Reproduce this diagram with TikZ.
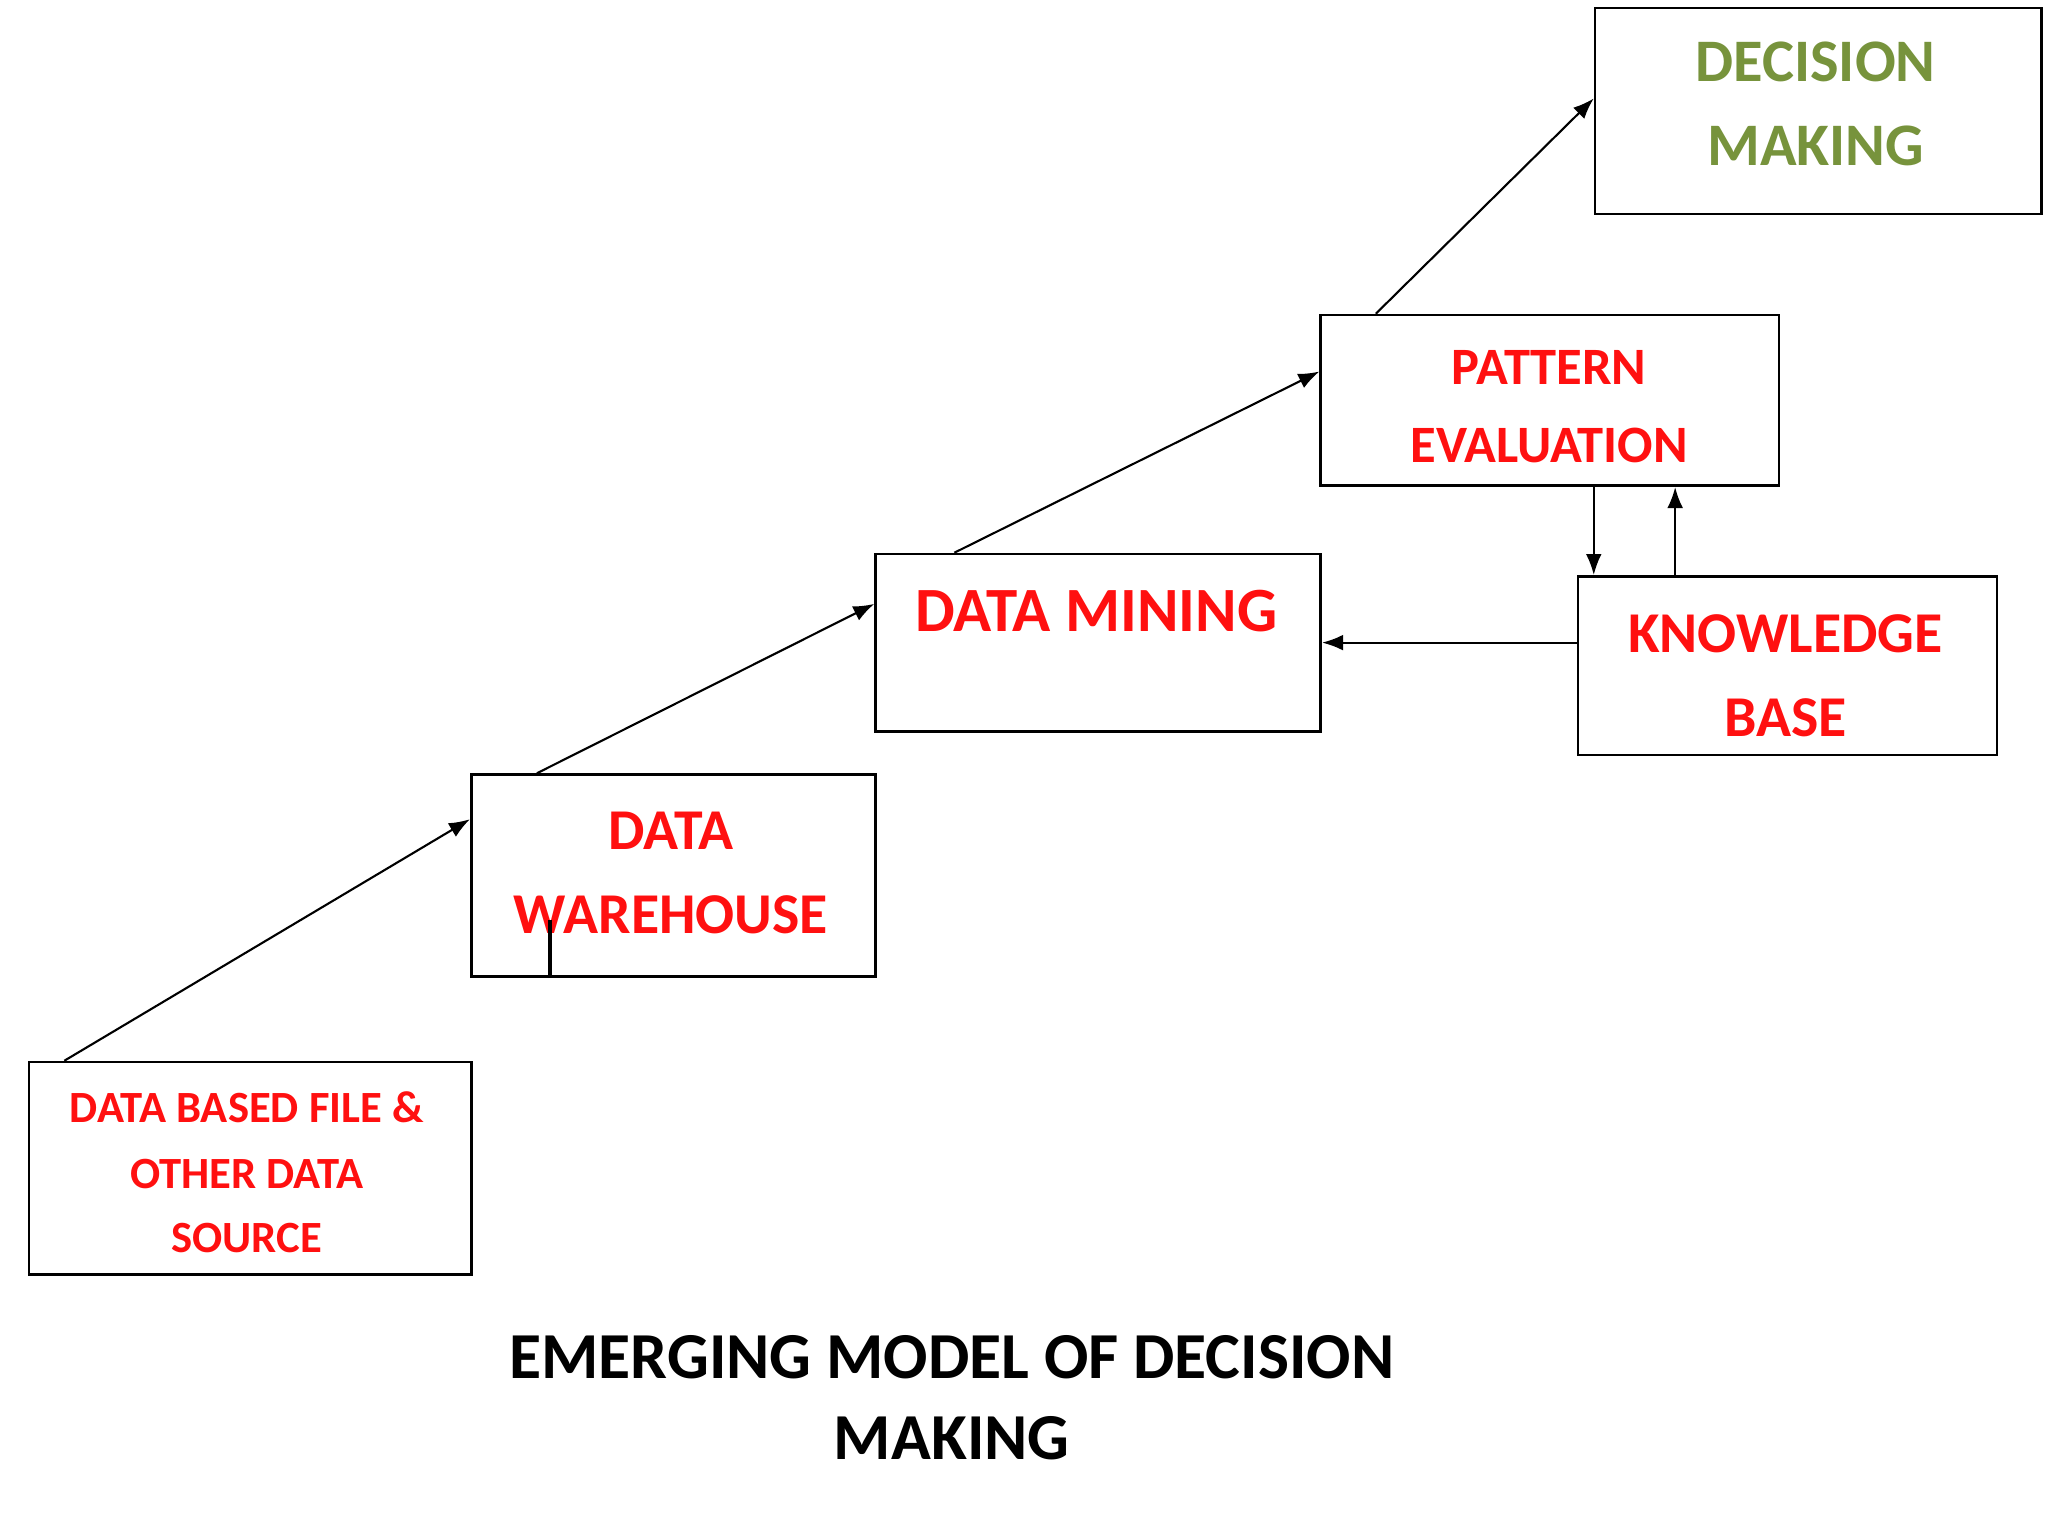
\documentclass[tikz,border=0pt]{standalone}
\usepackage{fontspec}
\setmainfont{Carlito}
\usetikzlibrary{arrows.meta,calc}
\definecolor{tred}{HTML}{FF1010}
\definecolor{tgreen}{HTML}{77933C}
\tikzset{
 box/.style={draw,line width=1pt,rectangle,inner sep=0pt},
 arr/.style={-{Latex[length=8pt,width=6pt]},line width=0.8pt},
 rt/.style={text=tred,font=\bfseries,inner sep=0pt,anchor=base},
}
\begin{document}
\begin{tikzpicture}[x=0.5pt,y=-0.5pt]
\useasboundingbox[fill=white] (0,0) rectangle (1560,1170);
\node[box,minimum width=170pt,minimum height=78.5pt] (dec) at (1385,84.5) {};
\node[box,minimum width=174.5pt,minimum height=65pt] (pe) at (1180.5,305) {};
\node[box,minimum width=169.5pt,minimum height=67.5pt] (dm) at (836.5,489.5) {};
\node[box,minimum width=159.5pt,minimum height=68pt] (kb) at (1361.5,507) {};
\node[box,minimum width=154pt,minimum height=77pt] (wh) at (513,667) {};
\node[box,minimum width=168.5pt,minimum height=81pt] (dbf) at (190.5,890) {};
% texts
\node[rt,text=tgreen,font=\fontsize{23}{28}\selectfont\bfseries] (t1) at (1383,62) {DECISION};
\node[rt,text=tgreen,font=\fontsize{23}{28}\selectfont\bfseries] (t2) at (1383,126) {MAKING};
\node[rt,font=\fontsize{20}{24}\selectfont\bfseries] (t3) at (1180,293) {PATTERN};
\node[rt,font=\fontsize{20}{24}\selectfont\bfseries] (t4) at (1180,352) {EVALUATION};
\node[rt,font=\fontsize{24}{28}\selectfont\bfseries] (t5) at (835,481) {DATA MINING};
\node[rt,font=\fontsize{22}{26}\selectfont\bfseries] (t6) at (1360,497) {KNOWLEDGE};
\node[rt,font=\fontsize{22}{26}\selectfont\bfseries] (t7) at (1360,561) {BASE};
\node[rt,font=\fontsize{22}{26}\selectfont\bfseries] (t8) at (511,647) {DATA};
\node[rt,font=\fontsize{22}{26}\selectfont\bfseries] (t9) at (511,711) {WAREHOUSE};
\node[rt,font=\fontsize{17}{20}\selectfont\bfseries] (t10) at (188,855) {DATA BASED FILE \&};
\node[rt,font=\fontsize{17}{20}\selectfont\bfseries] (t11) at (188,905) {OTHER DATA};
\node[rt,font=\fontsize{17}{20}\selectfont\bfseries] (t12) at (188,954) {SOURCE};
\node[inner sep=0pt,anchor=base,font=\fontsize{25}{30}\selectfont\bfseries] (ti1) at (725,1050) {EMERGING MODEL OF DECISION};
\node[inner sep=0pt,anchor=base,font=\fontsize{25}{30}\selectfont\bfseries] (ti2) at (725,1112) {MAKING};
% connectors
\draw[arr] ([xshift=14pt]dbf.north west) -- ([yshift=-17.5pt]wh.north west);
\draw[arr] ([xshift=25.5pt]wh.north west) -- ([yshift=-19.5pt]dm.north west);
\draw[arr] ([xshift=30.5pt]dm.north west) -- ([yshift=-22pt]pe.north west);
\draw[arr] ([xshift=21.5pt]pe.north west) -- ([yshift=-35pt]dec.north west);
\draw[arr] (dm.east -| kb.west) -- (dm.east);
\coordinate (pa) at ([xshift=104.5pt]pe.south west);
\coordinate (pb) at ([xshift=135.5pt]pe.south west);
\draw[arr] (pa) -- (pa |- kb.north);
\draw[arr] (pb |- kb.north) -- (pb);
\coordinate (tk) at ([xshift=30.5pt]wh.south west);
\draw[line width=1.5pt] (tk) -- ++(0,-44);
\end{tikzpicture}
\end{document}
